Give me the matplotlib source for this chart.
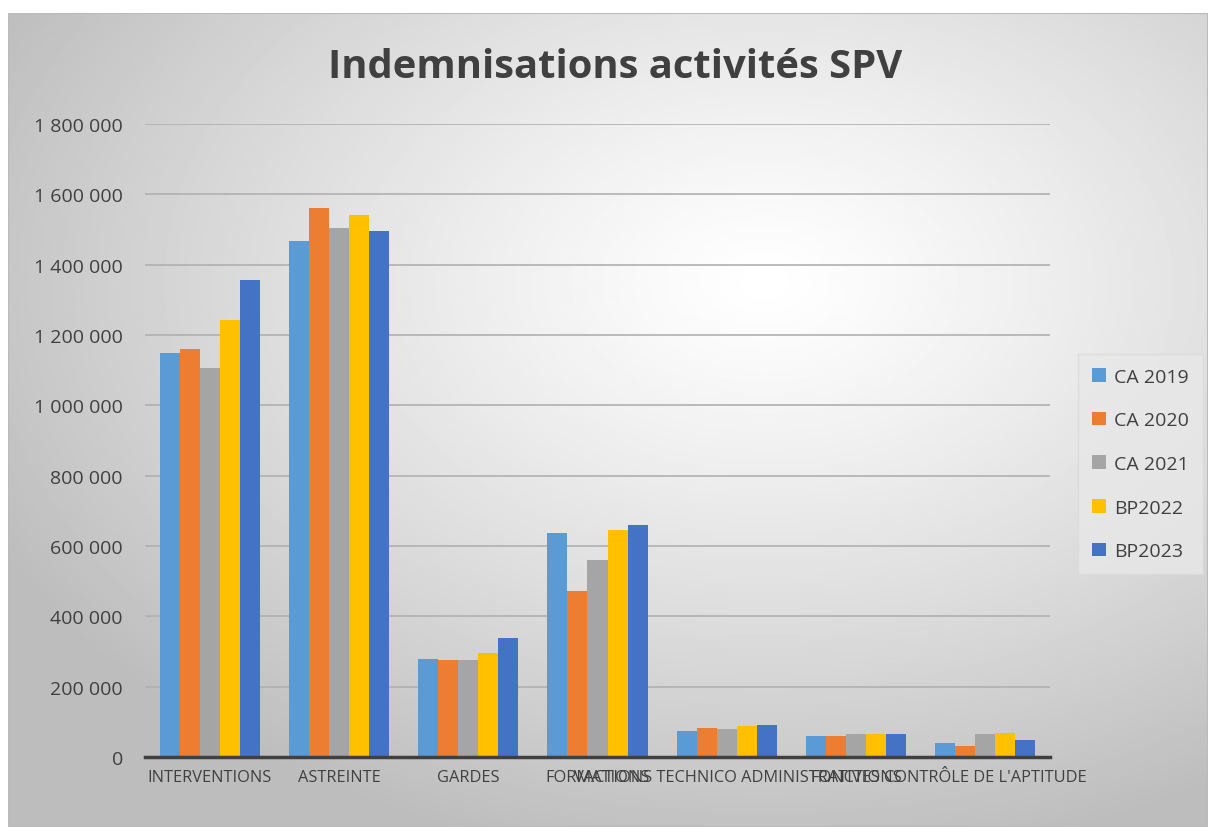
import matplotlib
matplotlib.use("Agg")
import matplotlib.pyplot as plt
import numpy as np
from matplotlib.ticker import FuncFormatter

# Donnees
categories = ["INTERVENTIONS", "ASTREINTE", "GARDES", "FORMATIONS",
              "VACTIONS TECHNICO ADMINISTRATIVES", "FONCTIONS",
              "CONTRÔLE DE L'APTITUDE"]
series_names = ["CA 2019", "CA 2020", "CA 2021", "BP2022", "BP2023"]
ca2019 = [1148000, 1467000, 279000, 637000, 74000, 60000, 40000]
ca2020 = [1160000, 1561000, 276000, 472000, 83000, 60000, 32000]
ca2021 = [1106000, 1504000, 276000, 560000, 81000, 64000, 65000]
bp2022 = [1242000, 1541000, 296000, 645000, 89000, 66000, 69000]
bp2023 = [1356000, 1496000, 338000, 660000, 91000, 66000, 49000]
colors = ["#5B9BD5", "#ED7D31", "#A5A5A5", "#FFC000", "#4472C4"]

plt.rcParams['font.family'] = ['Open Sans', 'DejaVu Sans']

W, H = 1208, 828
fig = plt.figure(figsize=(W / 100, H / 100), dpi=100)
fig.patch.set_facecolor("white")

# fond degrade radial
bg = fig.add_axes([8 / W, 0, 1 - 8 / W, 1 - 14 / H])
bg.set_axis_off()
yy, xx = np.mgrid[0:400, 0:600]
cx, cy = 0.63 * 600, 0.33 * 400
d = np.sqrt(((xx - cx) / 600) ** 2 + ((yy - cy) / 400) ** 2)
d = np.clip(d / 0.72, 0, 1)
g = 1.0 - 0.26 * d ** 1.2
bg.imshow(g, cmap="gray", vmin=0, vmax=1, aspect="auto", extent=[0, 1, 0, 1])
bg.add_patch(plt.Rectangle((0, 0), 1, 1, transform=bg.transAxes, fill=False,
                           edgecolor="#bbbbbb", lw=1.5))

ax = fig.add_axes([145 / W, 1 - 758 / H, (1050 - 145) / W, (758 - 125) / H])
ax.patch.set_alpha(0)

data = [ca2019, ca2020, ca2021, bp2022, bp2023]
x = np.arange(len(categories))
bw = 0.155
for i, (vals, name) in enumerate(zip(data, series_names)):
    ax.bar(x + (i - 2) * bw, vals, bw, color=colors[i], label=name, zorder=3)

ax.set_xlim(-0.5, len(categories) - 0.5)
ax.set_ylim(0, 1800000)
ax.set_yticks(np.arange(0, 1800001, 200000))
ax.yaxis.set_major_formatter(FuncFormatter(lambda v, p: f"{int(v):,}".replace(",", " ")))
ax.grid(axis="y", color="#b0b0b0", lw=1.2, zorder=0)
for s in ["top", "right", "left"]:
    ax.spines[s].set_visible(False)
ax.spines["bottom"].set_color("#404040")
ax.spines["bottom"].set_linewidth(2.5)
ax.spines["bottom"].set_zorder(4)
ax.tick_params(axis="both", length=0, colors="#404040")
ax.tick_params(axis="y", pad=16, labelsize=14)
ax.tick_params(axis="x", pad=9, labelsize=11.8)
ax.set_xticks(x)
ax.set_xticklabels(categories)

fig.text(615 / W, 1 - 68 / H, "Indemnisations activités SPV", ha="center", va="center",
         fontsize=28.8, fontweight="bold", color="#404040")

leg = ax.legend(loc="center left", bbox_to_anchor=(1078 / W, 1 - 465 / H),
                bbox_transform=fig.transFigure, frameon=True, fontsize=14,
                labelspacing=1.32, handlelength=0.72, handleheight=0.72,
                handletextpad=0.45, borderpad=0.7, borderaxespad=0, fancybox=False)
leg.get_frame().set_facecolor("#e8e8e8")
leg.get_frame().set_edgecolor("#dadada")
for t in leg.get_texts():
    t.set_color("#404040")

fig.savefig("out.png", dpi=100)
